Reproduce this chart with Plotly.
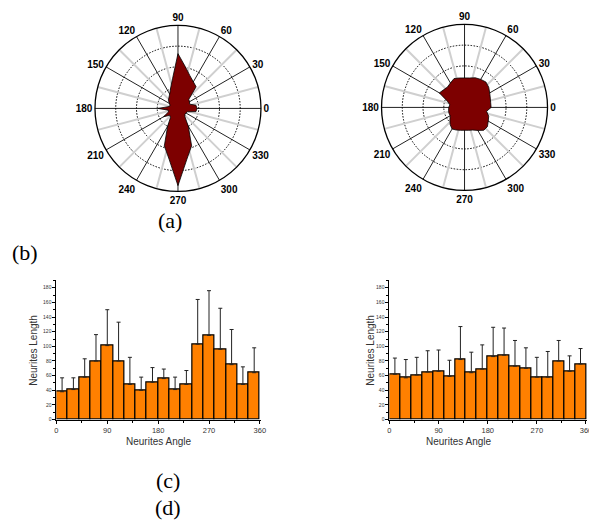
import plotly.graph_objects as go

W, H = 597, 526
OX, OY = 8, 8          # default page (body) margin of the html page
FW, FH = W - OX, H - OY

# ---------------- data ----------------
polar_theta = list(range(0, 360, 10))
polar_a_r = [0.23, 0.22, 0.15, 0.16, 0.17, 0.34, 0.37, 0.42, 0.51, 0.66,
             0.37, 0.26, 0.20, 0.17, 0.15, 0.12, 0.10, 0.12, 0.24, 0.12,
             0.12, 0.20, 0.13, 0.14, 0.25, 0.48, 0.62, 0.93, 0.62, 0.48,
             0.25, 0.13, 0.11, 0.11, 0.12, 0.22]
polar_b_r = [0.32, 0.32, 0.33, 0.35, 0.38, 0.40, 0.39, 0.38, 0.36, 0.355,
             0.36, 0.37, 0.34, 0.32, 0.33, 0.35, 0.22, 0.18, 0.19, 0.195,
             0.20, 0.20, 0.23, 0.27, 0.30, 0.29, 0.28, 0.275, 0.28, 0.29,
             0.32, 0.36, 0.36, 0.33, 0.31, 0.27]
angle_labels = list(range(0, 360, 30))
gray_spokes = list(range(15, 360, 30))

bin_centers = list(range(10, 360, 20))
len_c = [38, 41, 58, 80, 101, 80, 48, 40, 51, 56, 41, 48, 103, 115, 96, 75, 48, 64]
err_c = [19, 16, 25, 36, 49, 53, 37, 18, 20, 13, 17, 19, 61, 61, 56, 48, 24, 34]
len_d = [62, 57, 61, 65, 66, 59, 82, 64, 69, 86, 88, 73, 70, 58, 58, 80, 66, 76]
err_d = [22, 25, 24, 29, 29, 22, 45, 28, 33, 40, 37, 35, 28, 27, 35, 28, 21, 21]


def dx(a, b):
    return [(a - OX) / FW, (b - OX) / FW]


def dy(top, bottom):
    return [1 - (bottom - OY) / FH, 1 - (top - OY) / FH]


fig = go.Figure()

for sub, rvals in (("polar", polar_a_r), ("polar2", polar_b_r)):
    r_sp, t_sp = [], []
    for a in gray_spokes:
        r_sp += [0, 1, None]
        t_sp += [a, a, None]
    fig.add_trace(go.Scatterpolar(r=r_sp, theta=t_sp, mode="lines",
                                  line=dict(color="#cfcfcf", width=2),
                                  hoverinfo="skip", showlegend=False, subplot=sub))
    fig.add_trace(go.Scatterpolar(r=rvals + [rvals[0]],
                                  theta=polar_theta + [polar_theta[0]],
                                  mode="lines", fill="toself",
                                  fillcolor="#7d0000",
                                  line=dict(color="black", width=0.8),
                                  showlegend=False, subplot=sub))

for xa, ya, vals, errs in (("x", "y", len_c, err_c), ("x2", "y2", len_d, err_d)):
    fig.add_trace(go.Bar(x=bin_centers, y=vals, width=20,
                         marker=dict(color="#ff8000", line=dict(color="black", width=1.2)),
                         error_y=dict(type="data", symmetric=False, array=errs,
                                      arrayminus=[0] * len(errs), color="#222222",
                                      thickness=1, width=2),
                         xaxis=xa, yaxis=ya, showlegend=False))

polar_common = dict(
    bgcolor="white",
    angularaxis=dict(tickmode="array", tickvals=angle_labels,
                     ticktext=[str(a) for a in angle_labels],
                     showgrid=True, gridcolor="#222222", gridwidth=0.6,
                     showline=True, linecolor="black", linewidth=1.3,
                     ticks="", tickfont=dict(family="Liberation Sans", size=10,
                                             color="black", weight="bold"),
                     rotation=0, direction="counterclockwise"),
    radialaxis=dict(range=[0, 1], tickvals=[0.25, 0.5, 0.75], showticklabels=False,
                    ticks="", showline=False, gridcolor="black", griddash="1.5px,1.5px",
                    gridwidth=1),
)

xcommon = dict(range=[0, 362], tickmode="linear", tick0=0, dtick=90,
               showline=True, linecolor="black", linewidth=1, ticks="outside",
               ticklen=3, tickcolor="black", showgrid=False, zeroline=False,
               tickfont=dict(family="Liberation Sans", size=7.5, color="#333"),
               minor=dict(dtick=45, ticklen=2, tickcolor="black", ticks="outside"))
ycommon = dict(range=[0, 190], tickmode="linear", tick0=0, dtick=20,
               showline=True, linecolor="black", linewidth=1, ticks="outside",
               ticklen=3, tickcolor="black", showgrid=False, zeroline=False,
               tickfont=dict(family="Liberation Sans", size=5, color="#333"),
               minor=dict(dtick=10, ticklen=2, tickcolor="black", ticks="outside"))

fig.update_layout(
    width=FW, height=FH, margin=dict(l=0, r=0, t=0, b=0),
    paper_bgcolor="white", plot_bgcolor="white", bargap=0,
    polar=dict(domain=dict(x=dx(94, 262), y=dy(25, 193)), **polar_common),
    polar2=dict(domain=dict(x=dx(384, 552), y=dy(24, 192)), **polar_common),
    xaxis=dict(domain=dx(55, 262), anchor="y", **xcommon),
    yaxis=dict(domain=dy(282, 422), anchor="x", **ycommon),
    xaxis2=dict(domain=dx(392, 592), anchor="y2", **xcommon),
    yaxis2=dict(domain=dy(282, 422), anchor="x2", **ycommon),
)

serif = dict(family="Liberation Serif", size=22, color="black")
sans = dict(family="Liberation Sans", size=10, color="#333")
notes = [
    ("(a)", 170, 222, serif, 0),
    ("(b)", 23, 254, serif, 0),
    ("(c)", 168, 483, serif, 0),
    ("(d)", 168, 510, serif, 0),
    ("Neurites Angle", 158, 444, sans, 0),
    ("Neurites Angle", 462, 444, sans, 0),
    ("Neurites Length", 31, 352, sans, -90),
    ("Neurites Length", 372, 352, sans, -90),
]
for txt, x, y, f, ang in notes:
    fig.add_annotation(text=txt, x=(x - OX) / FW, y=1 - (y - OY) / FH,
                       xref="paper", yref="paper",
                       showarrow=False, font=f, textangle=ang,
                       xanchor="center", yanchor="middle")

fig.write_html("out.html")
